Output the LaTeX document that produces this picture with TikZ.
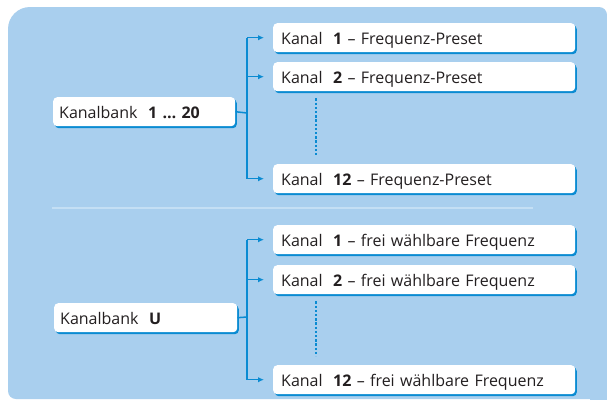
\documentclass[tikz,border=0pt]{standalone}
\usepackage{fontspec}
\setmainfont{Open Sans}
\usetikzlibrary{arrows.meta}
\definecolor{bg}{HTML}{A9CFEE}
\definecolor{ln}{HTML}{0A8BD2}
\definecolor{sep}{HTML}{C4DFF4}
\definecolor{txt}{HTML}{231F20}
\newcommand{\gap}{\hspace{10.5pt}}
\begin{document}
\begin{tikzpicture}[x=1pt,y=-1pt,
  box/.style={anchor=north west, fill=white, rounded corners=4pt, inner xsep=8pt, inner ysep=0pt,
    minimum height=29pt, text width=#1, text height=15pt, text depth=2pt, align=left, text=txt,
    font=\fontsize{16}{18}\selectfont,
    preaction={fill=ln, transform canvas={xshift=1.6pt,yshift=-2pt}}},
  box/.default=286pt,
  bank/.style={box=#1, inner xsep=6pt},
  conn/.style={ln, line width=1.5pt},
  arr/.style={conn, -{Latex[length=6pt,width=5.5pt]}},
  dots/.style={ln, line width=2.8pt, dash pattern=on 2.4pt off 1.8pt}]
\useasboundingbox (0,0) rectangle (607,400);
\fill[white] (0,0) rectangle (607,400);
% background panel
\fill[bg, rounded corners=8pt] (8,7) rectangle (607,399);
\fill[bg] (590,380) rectangle (607,400);
\fill[white] (8,7) rectangle (30,29);
\fill[bg, rounded corners=22pt] (8,7) rectangle (60,60);
% separator
\draw[sep, line width=1.5pt] (52,208) -- (533,208);

% upper group
\node[bank=170pt] (kb1) at (53,97) {Kanalbank\gap\textbf{1 … 20}};
\node[box] (c1a) at (273,23) {Kanal\gap\textbf{1} – Frequenz-Preset};
\node[box] (c1b) at (273,62) {Kanal\gap\textbf{2} – Frequenz-Preset};
\node[box] (c1c) at (273,164) {Kanal\gap\textbf{12} – Frequenz-Preset};
\coordinate (j1) at (247,113);
\draw[conn] (kb1.east) -- (j1);
\draw[conn] (j1 |- c1a.west) -- (j1 |- c1c.west);
\draw[arr] (j1 |- c1a.west) -- ([xshift=-9pt]c1a.west);
\draw[arr] (j1 |- c1b.west) -- ([xshift=-9pt]c1b.west);
\draw[arr] (j1 |- c1c.west) -- ([xshift=-9pt]c1c.west);
\draw[dots] ([xshift=43pt,yshift=-7pt]c1b.south west) -- ([xshift=43pt,yshift=9pt]c1c.north west);

% lower group
\node[bank=171pt] (kbU) at (54,303) {Kanalbank\gap\textbf{U}};
\node[box] (c2a) at (273,225) {Kanal\gap\textbf{1} – frei wählbare Frequenz};
\node[box] (c2b) at (273,265) {Kanal\gap\textbf{2} – frei wählbare Frequenz};
\node[box] (c2c) at (273,365) {Kanal\gap\textbf{12} – frei wählbare Frequenz};
\coordinate (j2) at (247,317);
\draw[conn] (kbU.east) -- (j2);
\draw[conn] (j2 |- c2a.west) -- (j2 |- c2c.west);
\draw[arr] (j2 |- c2a.west) -- ([xshift=-9pt]c2a.west);
\draw[arr] (j2 |- c2b.west) -- ([xshift=-9pt]c2b.west);
\draw[arr] (j2 |- c2c.west) -- ([xshift=-9pt]c2c.west);
\draw[dots] ([xshift=43pt,yshift=-7pt]c2b.south west) -- ([xshift=43pt,yshift=9pt]c2c.north west);
\end{tikzpicture}
\end{document}
